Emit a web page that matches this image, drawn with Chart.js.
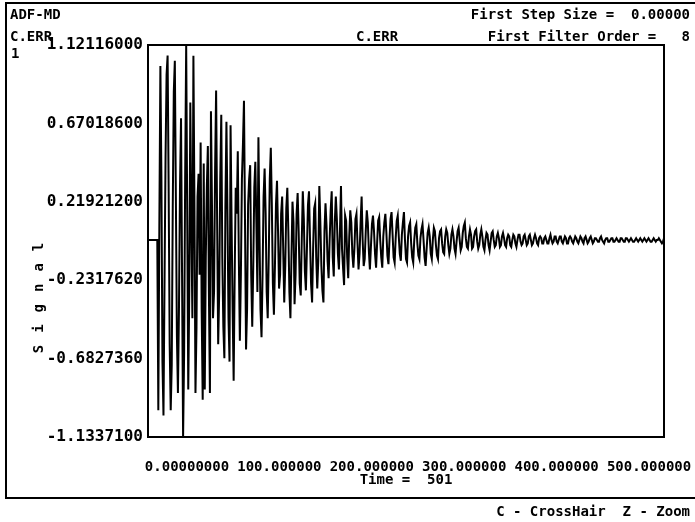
<!DOCTYPE html>
<html>
<head>
<meta charset="utf-8">
<script src="https://cdn.jsdelivr.net/npm/chart.js@4"></script>
<style>
  html, body { margin:0; padding:0; background:#fff; }
  #wrap { position:relative; width:695px; height:522px; overflow:hidden; background:#fff; }
  canvas { position:absolute; left:0; top:0; }
  .t { position:absolute; font-family:"DejaVu Sans Mono", monospace; font-weight:bold; font-size:14px; color:#000; white-space:pre; line-height:16px; }
  #frame { position:absolute; left:5px; top:2px; width:720px; height:493px; border-left:2px solid #000; border-top:2px solid #000; border-bottom:2px solid #000; }
  #ytitle { position:absolute; left:38px; top:292px; transform:translate(-50%,-50%) rotate(-90deg); font-family:"DejaVu Sans Mono", monospace; font-weight:bold; font-size:14px; letter-spacing:12px; white-space:nowrap; color:#000; }
</style>
</head>
<body>
<div id="wrap">
  <canvas id="c" width="695" height="522"></canvas>
  <div id="frame"></div>
  <div class="t" style="left:10px;top:6px;">ADF-MD</div>
  <div class="t" style="right:5px;top:6px;">First Step Size =  0.00000</div>
  <div class="t" style="left:10px;top:28px;">C.ERR</div>
  <div class="t" style="left:356px;top:28px;">C.ERR</div>
  <div class="t" style="right:5px;top:28px;">First Filter Order =   8</div>
  <div class="t" style="left:11px;top:45px;">1</div>
  <div class="t" style="right:5px;top:503px;">C - CrossHair  Z - Zoom</div>
  <div id="ytitle">Signal</div>
</div>
<script>
// ---- data (C.ERR signal, 501 samples) ----
const signal = [
 0,0,0,0,0,0,0,0,0,0,
 -0.98,0.10,1.00,0.35,-0.70,-1.01,-0.25,0.48,0.95,1.06,
 0.30,-0.60,-0.98,-0.72,0.20,0.85,1.03,0.25,-0.55,-0.88,
 -0.40,0.30,0.70,-0.20,-1.13371,-0.65,0.35,1.12116,0.15,-0.86,
 -0.30,0.79,0.10,-0.45,1.06,0.20,-0.88,-0.50,0.25,0.38,
 -0.20,0.56,-0.40,-0.92,0.44,-0.86,-0.10,0.30,0.54,-0.30,
 -0.88,0.74,0.20,-0.45,-0.30,0.40,0.86,0.10,-0.60,-0.30,
 0.35,0.72,-0.10,-0.50,-0.68,0.20,0.68,0.15,-0.45,-0.70,
 0.66,0.10,-0.40,-0.81,-0.20,0.30,0.15,0.51,-0.10,-0.58,
 -0.20,0.35,0.55,0.80,0.10,-0.63,-0.40,0.20,0.35,0.43,
 -0.20,-0.50,-0.15,0.30,0.45,0.10,-0.30,0.59,0.05,-0.40,
 -0.56,-0.20,0.25,0.41,0.15,-0.30,-0.45,-0.10,0.35,0.53,
 0.20,-0.25,-0.43,-0.15,0.20,0.34,0.05,-0.28,-0.20,0.15,
 0.25,-0.05,-0.36,-0.15,0.18,0.30,0.05,-0.30,-0.45,-0.10,
 0.22,0.10,-0.37,-0.20,0.15,0.27,0.05,-0.25,-0.32,0.00,
 0.28,0.12,-0.18,-0.29,-0.05,0.20,0.28,0.00,-0.25,-0.36,
 -0.05,0.18,0.21,-0.10,-0.28,-0.12,0.31,0.10,-0.15,-0.29,
 -0.36,0.05,0.21,0.08,-0.12,-0.22,0.00,0.17,0.28,-0.10,
 -0.21,0.10,0.25,0.12,-0.08,-0.17,0.05,0.31,-0.05,-0.16,
 -0.26,0.14,0.11,-0.10,-0.22,0.02,0.17,0.10,-0.08,-0.16,
 -0.05,0.12,0.15,-0.02,-0.17,-0.08,0.10,0.25,0.00,-0.15,
 -0.11,0.05,0.17,0.10,-0.06,-0.17,-0.04,0.09,0.14,0.05,
 -0.08,-0.16,-0.02,0.11,0.13,0.00,-0.10,-0.16,0.02,0.10,
 0.15,0.04,-0.09,-0.14,0.00,0.12,0.16,0.03,-0.10,-0.13,
 0.01,0.11,0.14,0.02,-0.08,-0.12,0.03,0.10,0.16,0.00,
 -0.11,-0.13,0.02,0.08,0.10,-0.02,-0.10,-0.13,0.00,0.07,
 0.09,-0.02,-0.09,-0.11,0.01,0.06,0.09,0.00,-0.10,-0.15,
 -0.05,0.04,0.07,0.02,-0.08,-0.11,0.00,0.07,0.05,-0.03,
 -0.09,-0.11,0.01,0.05,0.06,-0.02,-0.07,-0.08,0.02,0.06,
 0.04,-0.03,-0.08,-0.05,0.03,0.06,0.02,-0.05,-0.08,-0.01,
 0.05,0.07,0.00,-0.06,-0.04,0.04,0.08,0.10,0.01,-0.04,
 -0.05,0.02,0.06,0.03,-0.05,-0.04,0.02,0.05,0.06,-0.01,
 -0.05,-0.03,0.03,0.06,0.02,-0.04,-0.06,0.00,0.04,0.03,
 -0.03,-0.06,-0.01,0.04,0.05,0.00,-0.04,-0.03,0.02,0.04,
 0.01,-0.04,-0.03,0.02,0.04,0.01,-0.03,-0.04,0.01,0.03,
 0.02,-0.03,-0.04,0.00,0.03,0.02,-0.02,-0.04,0.00,0.03,
 0.03,-0.01,-0.03,-0.02,0.02,0.03,0.00,-0.03,-0.02,0.02,
 0.03,0.00,-0.03,-0.02,0.01,0.03,0.01,-0.02,-0.03,0.01,
 0.02,0.01,-0.02,-0.02,0.01,0.02,0.00,-0.02,-0.02,0.01,
 0.03,0.00,-0.02,-0.01,0.02,0.02,-0.01,-0.02,0.00,0.02,
 0.02,-0.01,-0.02,0.00,0.02,0.01,-0.02,-0.02,0.01,0.02,
 0.01,-0.01,-0.02,0.00,0.02,0.01,-0.01,-0.02,0.00,0.02,
 0.01,-0.01,-0.02,0.01,0.02,0.00,-0.02,-0.01,0.01,0.02,
 0.00,-0.02,-0.01,0.01,0.01,0.00,-0.01,-0.01,0.01,0.02,
 0.00,-0.01,-0.02,0.00,0.01,0.01,-0.01,-0.01,0.00,0.01,
 0.01,-0.01,-0.01,0.00,0.01,0.00,-0.01,-0.01,0.01,0.01,
 0.00,-0.01,-0.01,0.01,0.01,0.00,-0.01,0.00,0.01,0.00,
 -0.01,-0.01,0.00,0.01,0.00,-0.01,0.00,0.01,0.00,-0.01,
 0.00,0.01,0.00,-0.01,0.00,0.01,0.00,-0.01,-0.01,0.00,
 0.01,0.00,-0.01,0.00,0.00,0.01,0.00,-0.01,-0.02,-0.01,
 0.01
];
const yTickValues = [1.12116, 0.670186, 0.219212, -0.231762, -0.682736, -1.13371];
const yTickLabels = ["1.12116000", "0.67018600", "0.21921200", "-0.2317620", "-0.6827360", "-1.1337100"];
const xTickValues = [0, 100, 200, 300, 400, 500];
const xTickLabels = ["0.00000000", "100.000000", "200.000000", "300.000000", "400.000000", "500.000000"];
const xAxisTitle = "Time =  501";

const points = signal.map((v, i) => ({ x: i, y: v }));
const FONT = "'DejaVu Sans Mono', monospace";

const boxPlugin = {
  id: 'box',
  afterDatasetsDraw(chart) {
    const a = chart.chartArea, ctx = chart.ctx;
    ctx.save();
    ctx.strokeStyle = '#000';
    ctx.lineWidth = 2;
    ctx.strokeRect(a.left, a.top, a.right - a.left, a.bottom - a.top);
    ctx.restore();
  }
};

new Chart(document.getElementById('c'), {
  type: 'line',
  data: { datasets: [{ data: points, borderColor: '#000', borderWidth: 2, pointRadius: 0, tension: 0, fill: false, xAxisID: 'x', yAxisID: 'y' }] },
  options: {
    responsive: false, animation: false, devicePixelRatio: 1,
    layout: { padding: { left: 0, right: 31, top: 45, bottom: 0 } },
    plugins: { legend: { display: false }, tooltip: { enabled: false } },
    scales: {
      x: { type: 'linear', min: 0, max: 500, display: false },
      xl: {
        type: 'linear', position: 'bottom', min: -42.2, max: 516.2,
        afterBuildTicks(s) { s.ticks = xTickValues.map(v => ({ value: v })); },
        afterFit(s) { s.height = 85; s.paddingLeft = 0; s.paddingRight = 0; },
        grid: { display: false, drawTicks: false }, border: { display: false },
        ticks: { padding: 22, color: '#000', maxRotation: 0, autoSkip: false,
          font: { family: FONT, weight: 'bold', size: 14 },
          callback: (v, i) => xTickLabels[i] },
        title: { display: true, text: xAxisTitle, color: '#000', padding: { top: 0, bottom: 33 },
          font: { family: FONT, weight: 'bold', size: 14 } }
      },
      y: {
        type: 'linear', min: -1.13371, max: 1.12116,
        afterBuildTicks(s) { s.ticks = yTickValues.map(v => ({ value: v })); },
        afterFit(s) { s.width = 148; s.paddingTop = 0; s.paddingBottom = 0; },
        grid: { display: false, drawTicks: false }, border: { display: false },
        ticks: { padding: 5, color: '#000', autoSkip: false,
          font: { family: FONT, weight: 'bold', size: 16 },
          callback: (v, i) => yTickLabels[i] }
      }
    }
  },
  plugins: [boxPlugin]
});
</script>
</body>
</html>
